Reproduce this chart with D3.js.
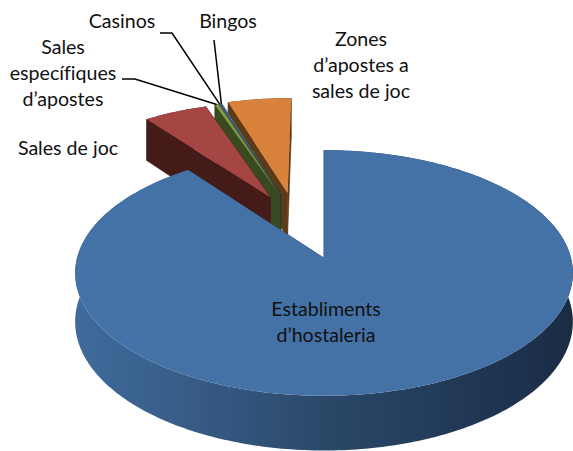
<!DOCTYPE html>
<html>
<head>
<meta charset="utf-8">
<script src="https://cdn.jsdelivr.net/npm/d3@7"></script>
<style>
  html, body { margin: 0; padding: 0; background: #fff; }
  svg { display: block; }
  text { font-family: Lato, "Open Sans", sans-serif; font-size: 19.6px; font-variant-ligatures: none; fill: #111; }
</style>
</head>
<body>
<svg id="chart" width="573" height="451"></svg>
<script>
// chart values (share of premises)
const categories = ["Establiments d’hostaleria", "Sales de joc", "Sales específiques d’apostes", "Casinos", "Bingos", "Zones d’apostes a sales de joc"];
const values = [89.7, 4.9, 0.3, 0.1, 0.1, 4.9];

// colours per slice
const topColors  = ["#4472a7", "#a64644", "#7f9b42", "#6c5489", "#3f8fa5", "#d9823c"];
const wallColors = ["#1f3550", "#451b1a", "#3a4a20", "#352a45", "#1f4752", "#5e3a17"];

// how far each slice is pulled out of the pie, on the pie plane
const offsetX = [0, -0.232, -0.19, -0.188, -0.186, -0.158];
const offsetY = [0, 0.536, 0.555, 0.556, 0.557, 0.575];

// perspective of the pie plane
const originX = 324, originY = 258;
const scaleX = 247, scaleY = 121, persp = 0.122, depth = 48;

function project(px, py, z) {
    let w = 1 + persp * py;
    return [originX + scaleX * px / w, originY - scaleY * py / w + z * depth / w];
}

let svg = d3.select("#chart");
let defs = svg.append("defs");

let rimGradient = defs.append("linearGradient")
    .attr("id", "rim-gradient")
    .attr("gradientUnits", "userSpaceOnUse")
    .attr("x1", 75).attr("y1", 0)
    .attr("x2", 573).attr("y2", 0);
[["0%", "#3f6b9c"], ["25%", "#365a85"], ["50%", "#2b4869"], ["75%", "#213a58"], ["100%", "#1a2c44"]].forEach(s => {
    rimGradient.append("stop").attr("offset", s[0]).attr("stop-color", s[1]);
});

let line = d3.line();
let pie = d3.pie().sort(null).value(d => d);
let slices = pie(values);

// points along the outer edge of a slice, at height z
function edge(d, i, z) {
    let n = Math.max(2, Math.ceil((d.endAngle - d.startAngle) * 60));
    return d3.range(n + 1).map(k => {
        let a = d.startAngle + (d.endAngle - d.startAngle) * k / n;
        return project(offsetX[i] + Math.sin(a), offsetY[i] + Math.cos(a), z);
    });
}

function centre(i, z) {
    return project(offsetX[i], offsetY[i], z);
}

function wall(d, i, angle) {
    let outer = z => project(offsetX[i] + Math.sin(angle), offsetY[i] + Math.cos(angle), z);
    return line([centre(i, 0), outer(0), outer(1), centre(i, 1)]) + "Z";
}

// painter's order: small slices from the back, big slice last
let order = [5, 4, 3, 2, 1, 0];

order.forEach(i => {
    let d = slices[i];
    let g = svg.append("g");

    // outer rim
    g.append("path")
        .attr("d", line(edge(d, i, 0).concat(edge(d, i, 1).reverse())) + "Z")
        .style("fill", i == 0 ? "url(#rim-gradient)" : wallColors[i]);

    // straight walls
    [d.endAngle, d.startAngle].forEach(a => {
        g.append("path")
            .attr("d", wall(d, i, a))
            .style("fill", wallColors[i])
            .style("stroke", wallColors[i])
            .style("stroke-width", 0.5);
    });

    // top face
    g.append("path")
        .attr("d", line([centre(i, 0)].concat(edge(d, i, 0))) + "Z")
        .style("fill", topColors[i]);
});

// leader lines end on the outer edge of their slices
function outerMid(i) {
    let pts = edge(slices[i], i, 0);
    return pts[Math.floor(pts.length / 2)];
}

let leaders = [
    { from: [[122, 79], [135, 79]], slice: 2 },
    { from: [[160, 33], [172, 33]], slice: 3 },
    { from: [[214, 40]], slice: 4 }
];

svg.append("g")
    .selectAll("path")
    .data(leaders)
    .enter()
    .append("path")
        .attr("d", d => line(d.from.concat([outerMid(d.slice)])))
        .style("fill", "none")
        .style("stroke", "#000")
        .style("stroke-width", 1.5);

// labels, one entry per text line
let labels = [
    ["Casinos", 122, 28],
    ["Bingos", 228, 28],
    ["Sales", 63, 54],
    ["específiques", 63, 80],
    ["d’apostes", 63, 106],
    ["Sales de joc", 68, 155],
    ["Zones", 361, 46],
    ["d’apostes a", 361, 72],
    ["sales de joc", 361, 98],
    ["Establiments", 326, 316],
    ["d’hostaleria", 326, 342]
];

svg.append("g")
    .selectAll("text")
    .data(labels)
    .enter()
    .append("text")
        .attr("x", d => d[1])
        .attr("y", d => d[2])
        .attr("text-anchor", "middle")
        .text(d => d[0]);
</script>
</body>
</html>
